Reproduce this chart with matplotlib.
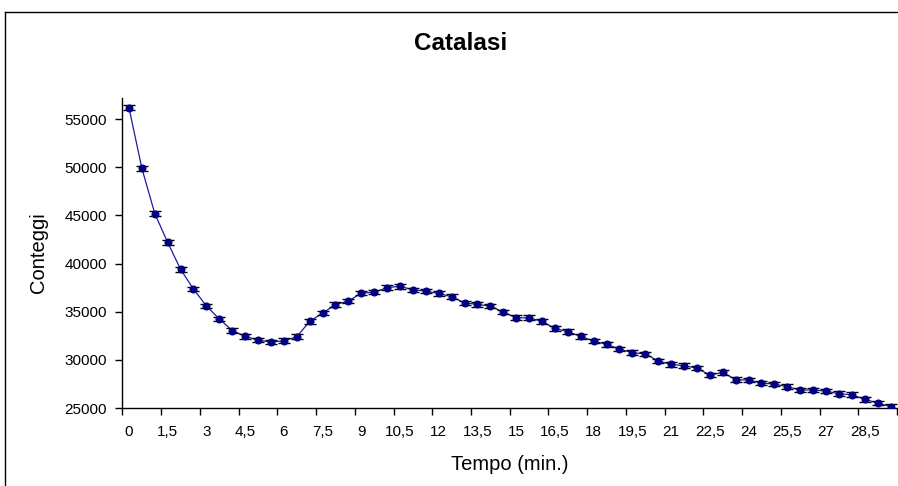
import matplotlib.pyplot as plt
from matplotlib.lines import Line2D

plt.rcParams['font.family'] = ['Liberation Sans', 'DejaVu Sans']

# tempo (min.) every 0.5 min, counts
times = [i * 0.5 for i in range(60)]
counts = [56200, 49900, 45200, 42200, 39400, 37350, 35600, 34250, 33050, 32450,
          32050, 31850, 31980, 32400, 34000, 34850, 35750, 36100, 36930, 37030,
          37500, 37650, 37270, 37140, 36900, 36550, 35920, 35760, 35580, 34960,
          34370, 34370, 33990, 33270, 32920, 32440, 31950, 31610, 31120, 30740,
          30620, 29890, 29530, 29390, 29150, 28420, 28700, 27940, 27900, 27590,
          27490, 27210, 26870, 26870, 26760, 26480, 26380, 25900, 25520, 25140]
err = 240
y_ticks = [25000, 30000, 35000, 40000, 45000, 50000, 55000]

W, H = 898, 486
fig = plt.figure(figsize=(W / 100, H / 100), dpi=100)
ax = fig.add_axes([122.5 / W, 1 - 408 / H, (897 - 122.5) / W, (408 - 98) / H])

pos = list(range(len(times)))
ax.plot(pos, counts, color='#1c1ca0', lw=0.9, zorder=2)
ax.errorbar(pos, counts, yerr=err, fmt='none', ecolor='black', elinewidth=0.8,
            capsize=4.3, capthick=1.0, zorder=3)
ax.plot(pos, counts, 'o', color='#000080', ms=4.8, zorder=4)

ax.set_xlim(-0.5, len(times) - 0.5)
ax.set_ylim(25000, 57200)
ax.set_yticks(y_ticks)
ax.set_yticklabels([str(v) for v in y_ticks])

# category axis: labels every 3rd point, ticks between categories
ax.set_xticks([p - 0.5 for p in pos[::3]] + [len(times) - 0.5])
ax.set_xticklabels([])
ax.set_xticks(pos[::3], minor=True)
ax.set_xticklabels([('%g' % times[p]).replace('.', ',') for p in pos[::3]], minor=True)
ax.tick_params(axis='x', which='minor', length=0, labelsize=11, pad=12.5)
ax.tick_params(axis='x', which='major', length=5, width=1, direction='out')
ax.tick_params(axis='y', length=5, width=1, direction='out', labelsize=11, pad=6)

for s in ['top', 'right']:
    ax.spines[s].set_visible(False)
for s in ['left', 'bottom']:
    ax.spines[s].set_linewidth(1)

ax.set_xlabel('Tempo (min.)', fontsize=14.5, labelpad=11)
ax.set_ylabel('Conteggi', fontsize=14.5, labelpad=12)

fig.text(460.5 / W, 1 - 44 / H, 'Catalasi', fontsize=17.5, fontweight='bold',
         ha='center', va='center')

# chart area border (cropped on the right and bottom)
fig.add_artist(Line2D([5 / W, 5 / W], [0, 1 - 12 / H], color='black', lw=1))
fig.add_artist(Line2D([5 / W, 1], [1 - 12 / H, 1 - 12 / H], color='black', lw=1))

fig.savefig('out.png', dpi=100)
